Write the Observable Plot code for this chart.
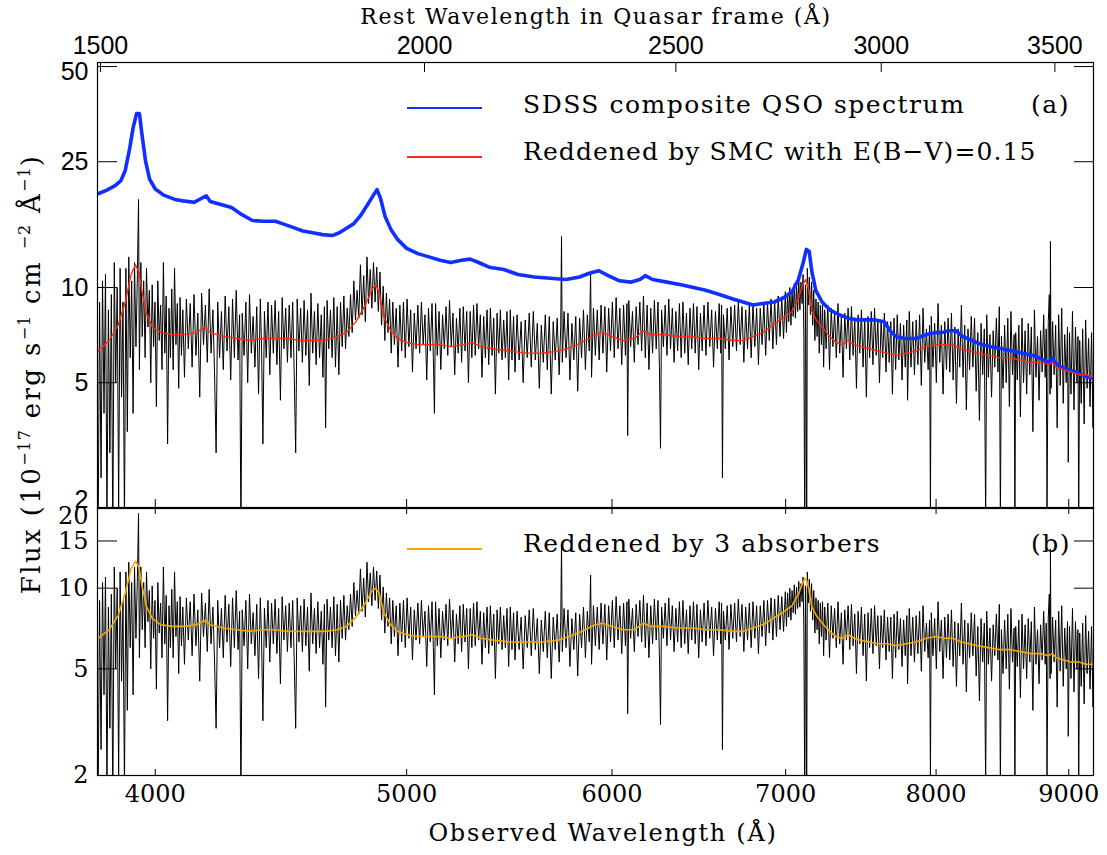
<!DOCTYPE html>
<html><head><meta charset="utf-8">
<script src="https://cdn.jsdelivr.net/npm/d3@7"></script>
<script src="https://cdn.jsdelivr.net/npm/@observablehq/plot@0.6"></script>
<style>
body{margin:0;background:#fff;}
#wrap{position:relative;width:1107px;height:855px;overflow:hidden;background:#fff;}
#top,#bot{position:absolute;left:0;}
#top{top:0}
#bot{top:507px}
.t{position:absolute;font-family:"DejaVu Serif",serif;font-size:25px;letter-spacing:1.5px;line-height:1;color:#000;white-space:nowrap;}
.c{transform:translate(-50%,-50%);}
.m{transform:translate(0,-50%);}
.ln{position:absolute;height:1.5px;width:75px;}
.yl{position:absolute;left:31px;top:374px;transform:translate(-50%,-50%) rotate(-90deg);font-family:"DejaVu Serif",serif;font-size:26px;letter-spacing:2.4px;white-space:nowrap;}
.yl sup{font-size:16px;vertical-align:0.65em;line-height:0;letter-spacing:1px;}
</style></head>
<body><div id="wrap">
<div id="top"></div><div id="bot"></div>
<div class="t c" style="left:596px;top:17px;font-size:22px;letter-spacing:1.6px">Rest Wavelength in Quasar frame (Å)</div>
<div class="t c" style="left:603px;top:833px;font-size:24px;letter-spacing:1.7px">Observed Wavelength (Å)</div>
<div class="yl">Flux (10<sup>−17</sup> erg s<sup>−1</sup> cm <sup>−2</sup> Å<sup>−1</sup>)</div>
<div class="ln" style="left:407px;top:107px;background:#1030ff"></div>
<div class="t m" style="left:523px;top:104px">SDSS composite QSO spectrum</div>
<div class="t m" style="left:1031px;top:104px">(a)</div>
<div class="ln" style="left:407px;top:156px;background:#ff2a10"></div>
<div class="t m" style="left:523px;top:151px;letter-spacing:1.1px">Reddened by SMC with E(B−V)=0.15</div>
<div class="ln" style="left:407px;top:548px;background:#f5a800"></div>
<div class="t m" style="left:523px;top:543px">Reddened by 3 absorbers</div>
<div class="t m" style="left:1031px;top:543px">(b)</div>
</div>
<script>
// Redshift of the quasar (1 + z)
const onePlusZ = 2.54;
const restTicks = [1500, 2000, 2500, 3000, 3500];
const obsTicks = [4000, 5000, 6000, 7000, 8000, 9000];
const yTicksTop = [2, 5, 10, 25, 50];
const yTicksBot = [2, 5, 10, 15, 20];
const xDomain = [3800, 9200];
const yDomainTop = [2, 51.5];
const yDomainBot = [2, 20];

// Observed spectrum [wavelength, flux]
const observedSpectrum = [
[3802,1.5],[3807,9.0],[3812,2.5],[3817,10.5],[3822,4.0],[3827,11.0],[3832,1.8],[3837,8.5],[3842,3.0],[3847,9.5],[3852,1.6],[3857,12.0],[3862,5.0],[3867,10.0],
[3872,2.0],[3877,11.5],[3882,4.5],[3887,9.0],[3892,1.8],[3897,11.5],[3902,3.5],[3907,12.5],[3912,6.0],[3917,10.5],[3922,4.0],[3927,12.0],[3932,6.5],[3937,11.0],
[3941,19.0],[3944,5.5],[3949,12.0],[3954,7.0],[3959,10.5],
[3964,6.0],[3969,11.5],[3974,7.5],[3979,9.8],[3984,5.0],[3989,10.2],[3994,6.5],[3999,9.0],[4004,4.2],[4009,10.5],[4014,6.8],[4019,8.8],[4024,5.5],[4029,12.0],
[4034,6.2],[4039,9.4],[4044,3.2],[4049,8.6],[4054,6.0],[4059,9.9],[4064,5.5],[4069,11.5],[4074,6.6],[4079,8.9],[4084,4.8],[4089,9.3],[4094,6.1],[4099,8.5],
[4105,5.2],[4112,9.2],[4119,6.4],[4126,8.9],[4133,5.6],[4140,9.5],[4147,6.1],[4154,8.3],[4161,4.5],[4168,9.6],[4175,6.6],[4182,8.8],[4189,5.8],[4196,9.9],
[4203,6.2],[4210,8.5],[4216,5.4],[4222,3.0],[4228,9.0],[4235,6.0],[4242,8.4],[4249,5.5],[4256,9.4],[4263,6.3],[4270,8.7],[4277,5.1],[4284,9.2],[4291,6.0],
[4298,9.8],[4305,5.9],[4311,8.2],[4316,1.6],[4321,8.3],[4328,6.1],[4335,9.0],[4342,5.0],[4349,9.5],[4356,6.2],[4363,8.1],[4370,5.6],[4377,8.7],[4384,4.6],
[4391,9.2],[4396,6.3],[4401,3.2],[4407,8.4],[4414,6.0],[4421,9.0],[4428,5.3],[4435,8.8],[4442,6.2],[4449,9.1],[4456,5.7],[4463,8.4],[4470,4.4],[4477,9.3],
[4484,6.4],[4491,8.6],[4498,5.8],
[4505,8.8],[4512,6.0],[4519,9.0],[4525,5.4],[4531,3.0],[4537,9.2],[4544,6.3],[4551,8.6],[4558,5.8],[4565,9.1],[4572,6.1],[4579,8.5],[4586,4.9],[4593,9.6],
[4600,6.2],[4607,8.4],[4614,5.7],[4621,8.9],[4628,6.0],[4635,8.2],[4642,5.2],[4648,8.7],[4653,3.6],[4659,9.1],[4666,6.4],[4673,8.5],[4680,6.0],[4687,9.3],
[4694,5.6],[4701,8.7],[4708,5.3],[4715,9.0],[4722,6.5],[4729,9.4],[4736,6.4],[4743,8.6],[4750,7.0],
[4757,9.5],[4764,7.2],[4771,10.5],[4778,7.9],[4785,9.8],[4792,8.0],[4799,11.8],[4806,8.2],[4813,10.9],[4820,7.8],[4827,12.5],[4834,8.9],[4841,11.4],[4848,8.6],
[4855,12.0],[4862,9.0],[4869,11.6],[4876,8.4],[4883,11.2],[4890,7.6],[4897,10.1],[4904,6.8],[4911,9.6],[4918,7.2],[4925,9.2],[4932,6.2],[4939,9.0],[4946,6.6],
[4954,8.6],[4962,5.6],[4970,8.8],[4978,6.3],[4986,9.0],[4994,6.0],[5002,9.2],[5010,6.5],[5018,8.5],[5026,5.4],[5034,8.3],[5042,6.4],[5050,8.8],[5058,6.2],
[5066,9.0],[5074,6.6],[5082,8.2],[5090,5.1],[5098,8.6],[5106,6.3],[5114,8.9],[5120,6.0],[5125,4.0],[5130,8.9],[5138,6.1],[5146,8.4],[5154,5.5],[5162,8.2],
[5170,6.4],[5178,8.7],[5186,6.1],[5194,9.1],[5202,6.5],[5210,8.3],[5218,5.3],[5226,8.0],[5234,6.2],[5242,8.6],[5250,5.8],[5258,8.7],[5266,6.3],[5274,8.4],
[5282,5.0],[5290,8.4],[5298,6.0],[5306,8.8],[5314,6.1],[5322,8.9],[5330,6.4],[5338,8.2],[5346,5.2],[5354,8.1],[5362,6.0],[5370,8.5],[5378,5.7],[5386,8.6],
[5394,6.1],[5402,8.0],[5410,4.6],[5418,8.3],[5426,6.2],[5434,8.5],[5442,5.9],[5450,7.9],[5458,6.0],[5466,8.4],[5474,5.1],[5482,8.5],[5490,5.9],[5498,8.1],
[5505,5.4],[5515,8.2],[5525,5.9],[5535,7.8],[5545,5.0],[5555,7.9],[5565,6.0],[5575,8.3],[5585,5.6],[5595,8.4],[5605,5.9],[5615,7.7],[5625,4.8],[5635,7.6],
[5645,5.8],[5655,8.2],[5665,5.5],[5675,8.1],[5685,4.6],[5695,7.8],[5705,5.9],[5715,8.0],[5725,5.3],[5733,7.5],[5737,14.5],[5741,5.8],[5750,8.4],[5760,6.0],
[5770,8.3],[5780,5.1],[5790,7.7],[5800,5.9],[5810,8.1],[5820,4.7],[5830,8.0],[5840,6.0],[5850,8.5],[5860,5.5],[5870,8.2],[5880,6.3],[5887,11.2],[5892,5.2],
[5902,8.6],[5912,6.1],[5922,8.5],[5932,5.9],[5942,8.8],[5952,6.2],[5962,8.7],[5972,5.4],[5982,8.6],[5992,6.3],
[6002,9.0],[6012,6.0],[6022,9.3],[6032,6.4],[6042,8.6],[6052,5.7],[6062,8.8],[6072,6.1],[6080,8.9],[6084,3.4],[6090,9.1],[6100,6.5],[6110,8.4],[6120,5.8],
[6130,8.7],[6140,6.6],[6150,9.0],[6160,6.3],[6170,9.4],[6180,6.0],[6190,8.8],[6200,5.5],[6210,8.6],[6220,6.2],[6230,9.1],[6240,6.4],[6250,9.0],[6258,5.6],
[6264,3.1],[6270,8.5],[6280,6.5],[6290,8.8],[6300,6.1],[6310,9.2],[6320,6.4],[6330,8.6],[6340,5.8],[6350,8.4],[6360,6.3],[6370,8.9],[6380,6.0],[6390,9.0],
[6400,6.2],[6410,8.3],[6420,5.7],[6430,8.6],[6440,6.4],[6450,8.9],[6460,6.2],[6470,8.7],[6480,5.5],[6490,8.3],
[6500,6.3],[6511,8.8],[6522,6.1],[6533,9.0],[6544,6.5],[6555,8.5],[6566,5.6],[6577,8.4],[6588,6.4],[6599,8.9],[6608,6.2],[6613,8.8],[6618,2.5],[6624,8.2],
[6635,6.4],[6646,8.6],[6657,5.9],[6668,8.7],[6679,6.5],[6690,8.8],[6701,6.3],[6712,9.1],[6723,6.6],[6734,8.7],[6745,5.8],[6756,8.5],[6767,6.4],[6778,8.8],
[6789,6.0],[6800,8.9],[6811,6.5],[6822,8.6],[6833,5.7],[6844,8.6],[6855,6.6],[6866,9.0],[6877,6.1],[6888,9.0],[6899,6.8],[6910,9.2],[6921,6.4],[6932,9.1],
[6943,6.6],[6954,9.4],[6965,7.0],[6976,9.3],[6987,6.9],[6998,9.7],
[7005,7.2],[7012,9.6],[7019,7.8],[7026,10.0],[7033,7.6],[7040,9.8],[7047,8.1],[7054,10.3],[7061,8.0],[7068,10.1],[7075,8.4],[7082,10.6],[7089,8.5],[7096,10.4],
[7103,8.9],[7109,11.0],[7114,7.0],[7120,1.5],[7124,10.2],[7128,6.0],[7132,1.5],[7136,11.5],[7142,8.8],[7149,10.8],[7156,8.2],[7163,10.4],[7170,7.6],[7177,9.8],
[7184,6.8],[7191,9.2],[7198,7.0],[7205,9.0],[7212,6.2],[7219,8.8],[7226,6.6],[7233,8.9],[7240,5.6],[7247,8.5],
[7256,6.4],[7267,8.8],[7278,5.5],[7289,8.6],[7300,6.5],[7311,8.4],[7322,6.0],[7333,8.9],[7344,6.2],[7355,8.1],[7366,5.2],[7377,8.3],[7388,6.4],[7399,8.6],
[7410,5.9],[7421,8.7],[7432,6.1],[7443,8.0],[7454,4.8],[7465,8.2],[7476,6.2],[7487,8.5],[7498,5.6],[7509,8.0],[7520,4.5],[7531,8.1],[7542,6.0],[7553,8.4],
[7564,5.7],[7575,8.6],[7586,6.1],[7597,7.9],[7608,5.0],[7619,7.9],[7630,6.0],[7641,8.3],[7652,5.4],[7663,7.8],[7674,5.8],[7685,7.8],[7696,4.6],[7707,8.0],
[7718,5.5],[7729,8.2],[7740,5.9],[7751,7.7],[7762,5.1],[7773,7.6],[7784,5.6],[7795,7.9],
[7800,4.4],[7812,8.4],[7824,5.6],[7836,7.8],[7848,5.3],[7860,7.9],[7872,5.7],[7884,8.2],[7896,4.9],[7908,8.6],[7920,5.8],[7932,7.4],[7944,5.5],[7954,7.6],
[7960,2.0],[7966,8.1],[7978,5.6],[7990,7.7],[8002,5.0],[8014,8.9],[8026,5.8],[8038,7.6],[8050,4.6],[8062,7.8],[8074,5.5],[8086,8.0],[8098,5.4],[8110,8.3],
[8122,5.1],[8134,7.5],[8146,4.3],[8158,7.4],[8170,5.6],[8182,8.8],[8194,5.2],[8206,7.6],[8218,4.1],[8230,7.4],[8242,5.5],[8254,8.1],[8266,5.6],[8278,8.0],
[8290,4.7],[8302,7.2],[8314,3.8],[8326,7.7],[8338,5.3],[8350,7.4],[8360,1.8],[8368,8.2],[8380,5.2],[8392,7.1],[8404,4.5],[8416,7.3],[8428,5.6],[8440,8.0],
[8452,5.4],[8462,8.7],[8470,1.8],[8478,7.0],[8490,4.8],
[8502,7.6],[8514,5.0],[8526,8.0],[8538,4.2],[8550,8.4],[8562,5.3],[8574,7.1],[8580,1.8],[8586,7.2],[8598,5.1],[8610,7.6],[8622,3.9],[8634,8.0],[8646,5.0],
[8658,7.3],[8670,4.6],[8682,7.7],[8694,5.3],[8706,7.5],[8718,3.5],[8730,8.5],[8742,5.2],[8754,7.0],[8766,4.4],[8778,7.3],[8790,5.4],[8802,8.2],[8814,5.2],
[8822,7.4],[8828,2.0],[8838,7.8],[8846,9.5],[8852,4.6],[8855,14.0],[8860,4.8],[8872,7.8],[8884,5.3],[8896,7.6],[8908,3.6],[8920,8.2],[8932,4.9],[8944,8.6],
[8956,4.3],[8968,7.1],[8980,5.0],[8990,7.5],[8996,2.8],[9006,7.2],[9018,4.6],[9030,8.4],[9042,4.1],[9054,7.5],[9066,5.0],[9074,7.0],[9080,1.8],[9088,6.8],
[9100,4.3],[9112,7.4],[9124,3.7],[9136,7.9],[9148,4.8],[9160,6.9],[9172,4.2],[9184,7.2],[9196,3.6],[9200,6.0]
];

// SDSS composite QSO spectrum, redshifted [wavelength, flux]
const compositeSpectrum = [
[3802,19.8],[3830,20.3],[3860,21.0],[3880,21.8],[3895,23.5],[3910,27.5],[3922,32],[3934,35.5],[3944,35.5],[3954,30],[3966,25],[3980,22],
[4000,20.5],[4030,19.6],[4070,19.0],[4100,18.8],[4140,18.6],[4170,19.2],[4185,19.5],[4200,18.7],[4240,18.3],[4280,17.9],[4320,17.0],[4360,16.3],
[4400,16.2],[4450,16.2],[4480,15.9],[4520,15.5],[4560,15.1],[4600,14.9],[4640,14.7],[4680,14.6],[4710,14.9],[4740,15.4],[4770,15.9],[4800,16.9],
[4830,18.3],[4855,19.6],[4870,20.4],[4885,19.2],[4905,16.8],[4930,15.3],[4960,14.2],[5000,13.3],[5050,12.8],[5100,12.5],[5150,12.2],[5200,12.0],
[5250,12.2],[5290,12.3],[5330,12.0],[5380,11.6],[5450,11.4],[5520,11.0],[5600,10.8],[5680,10.7],[5760,10.6],[5830,10.8],[5880,11.1],[5930,11.3],
[5980,10.9],[6040,10.5],[6100,10.4],[6150,10.6],[6180,10.9],[6220,10.6],[6300,10.4],[6380,10.2],[6450,10.0],[6520,9.8],[6600,9.5],[6680,9.2],
[6740,9.0],[6800,8.8],[6860,8.9],[6930,9.0],[6990,9.3],[7040,9.7],[7080,10.6],[7110,12.0],[7130,13.2],[7148,13.0],[7165,11.2],[7190,9.8],
[7230,9.0],[7280,8.5],[7340,8.2],[7400,8.0],[7460,7.9],[7520,7.9],[7580,7.9],[7640,7.8],[7680,7.3],[7720,7.0],[7780,6.9],[7860,6.9],
[7930,7.1],[7990,7.2],[8040,7.2],[8090,7.3],[8140,7.3],[8190,7.0],[8260,6.8],[8330,6.6],[8400,6.5],[8480,6.4],[8560,6.3],[8640,6.2],
[8720,6.1],[8800,5.9],[8840,5.8],[8870,6.0],[8890,5.8],[8940,5.6],[9000,5.5],[9060,5.4],[9120,5.25],[9200,5.15]
];

// Composite reddened by SMC dust, E(B-V)=0.15 [wavelength, flux]
const smcReddened = [
[3802,6.3],[3840,6.8],[3870,7.6],[3895,9.0],[3915,11.0],[3930,11.8],[3942,11.2],[3955,9.5],[3970,8.2],[3990,7.5],[4020,7.2],[4060,7.1],
[4100,7.1],[4150,7.2],[4180,7.5],[4200,7.2],[4250,7.0],[4300,6.9],[4350,6.8],[4400,6.9],[4450,6.9],[4500,6.9],[4550,6.8],[4600,6.8],
[4650,6.8],[4700,7.0],[4740,7.2],[4780,7.8],[4820,8.8],[4850,9.9],[4865,10.2],[4880,9.6],[4900,8.1],[4930,7.3],[4960,6.9],[5000,6.7],
[5050,6.6],[5100,6.6],[5150,6.6],[5200,6.5],[5260,6.6],[5300,6.7],[5340,6.5],[5400,6.4],[5480,6.3],[5560,6.2],[5640,6.2],[5720,6.3],
[5800,6.5],[5860,6.8],[5910,7.1],[5950,7.2],[6000,7.0],[6060,6.8],[6120,6.9],[6170,7.3],[6210,7.1],[6280,7.1],[6360,7.0],[6440,7.0],
[6520,6.9],[6600,6.9],[6680,6.8],[6740,6.8],[6800,7.0],[6860,7.2],[6920,7.6],[6980,8.0],[7040,8.4],[7080,9.2],[7110,10.3],[7128,10.6],
[7145,9.8],[7165,8.4],[7200,7.8],[7240,7.4],[7280,7.0],[7320,6.7],[7360,6.6],[7400,6.8],[7440,6.6],[7480,6.5],[7540,6.4],[7600,6.3],
[7660,6.2],[7720,6.1],[7790,6.2],[7860,6.3],[7930,6.5],[8000,6.6],[8060,6.6],[8120,6.6],[8180,6.4],[8240,6.3],[8300,6.2],[8380,6.1],
[8460,6.0],[8540,6.0],[8620,5.9],[8700,5.8],[8780,5.8],[8840,5.7],[8870,5.8],[8900,5.6],[8960,5.5],[9020,5.4],[9080,5.3],[9140,5.3],[9200,5.2]
];

// Composite reddened by 3 absorbers [wavelength, flux]
const threeAbsorbers = [
[3802,6.5],[3840,7.0],[3870,7.9],[3895,9.6],[3915,11.8],[3930,12.6],[3942,12.0],[3955,10.0],[3970,8.5],[3990,7.7],[4020,7.3],[4060,7.2],
[4100,7.2],[4150,7.3],[4180,7.6],[4200,7.3],[4250,7.1],[4300,7.0],[4350,6.9],[4400,7.0],[4450,7.0],[4500,6.9],[4550,6.9],[4600,6.9],
[4650,6.9],[4700,7.0],[4740,7.2],[4780,7.8],[4820,8.8],[4850,9.8],[4865,10.0],[4880,9.5],[4900,8.1],[4930,7.3],[4960,6.9],[5000,6.7],
[5050,6.6],[5100,6.6],[5150,6.6],[5200,6.5],[5260,6.6],[5300,6.7],[5340,6.5],[5400,6.4],[5480,6.3],[5560,6.3],[5640,6.3],[5720,6.4],
[5800,6.7],[5860,7.0],[5910,7.3],[5950,7.4],[6000,7.2],[6060,7.0],[6120,7.0],[6170,7.4],[6210,7.2],[6280,7.2],[6360,7.1],[6440,7.1],
[6520,7.0],[6600,7.0],[6680,6.9],[6740,6.9],[6800,7.1],[6860,7.3],[6920,7.7],[6980,8.1],[7040,8.6],[7080,9.5],[7110,10.6],[7128,10.9],
[7145,10.0],[7165,8.5],[7200,7.8],[7240,7.3],[7280,6.9],[7320,6.6],[7360,6.5],[7400,6.7],[7440,6.5],[7480,6.4],[7540,6.3],[7600,6.2],
[7660,6.2],[7720,6.1],[7790,6.2],[7860,6.3],[7930,6.5],[8000,6.6],[8060,6.5],[8120,6.5],[8180,6.3],[8240,6.2],[8300,6.1],[8380,6.0],
[8460,5.9],[8540,5.9],[8620,5.8],[8700,5.7],[8780,5.7],[8840,5.6],[8870,5.7],[8900,5.5],[8960,5.4],[9020,5.3],[9080,5.3],[9140,5.2],[9200,5.2]
];

const toRows = a => a.map(([w, f]) => ({w, f}));
const spec = toRows(observedSpectrum);
const comp = toRows(compositeSpectrum);
const smc = toRows(smcReddened);
const abs3 = toRows(threeAbsorbers);

const sansFont = "Liberation Sans";
const serifFont = "DejaVu Serif";
const isEnd = (t, v) => t === v;

const topChart = Plot.plot({
  width: 1107, height: 508,
  marginLeft: 97, marginRight: 14, marginTop: 62, marginBottom: 0,
  x: {type: "log", domain: xDomain, label: null},
  y: {type: "log", domain: yDomainTop, label: null},
  style: {background: "transparent", overflow: "visible"},
  marks: [
    Plot.line(spec, {x: "w", y: "f", stroke: "black", strokeWidth: 1, clip: true}),
    Plot.line(comp, {x: "w", y: "f", stroke: "#1030ff", strokeWidth: 3.6, clip: true}),
    Plot.line(smc, {x: "w", y: "f", stroke: "#ff2a10", strokeWidth: 1.4, clip: true}),
    Plot.frame({stroke: "black", strokeWidth: 1.2}),
    Plot.axisY({anchor: "left", ticks: yTicksTop.slice(1, -1), tickFormat: d => String(d), tickSize: 0, tickPadding: 9, fontSize: 25, fontFamily: sansFont, label: null}),
    Plot.axisY({anchor: "left", ticks: yTicksTop.slice(-1), tickFormat: d => String(d), tickSize: 0, tickPadding: 9, dy: 5, fontSize: 25, fontFamily: sansFont, label: null}),
    Plot.axisY({anchor: "left", ticks: yTicksTop.slice(0, 1), tickFormat: d => String(d), tickSize: 0, tickPadding: 9, dy: -9, fontSize: 25, fontFamily: sansFont, label: null}),
    Plot.axisY({anchor: "left", ticks: yTicksTop, tickFormat: () => "", tickSize: -20, label: null}),
    Plot.axisY({anchor: "right", ticks: yTicksTop, tickFormat: () => "", tickSize: -20, label: null}),
    Plot.axisX({anchor: "top", ticks: restTicks.map(r => r * onePlusZ), tickFormat: d => String(Math.round(d / onePlusZ)), tickSize: 0, tickPadding: 9, fontSize: 25, fontFamily: sansFont, label: null}),
    Plot.axisX({anchor: "top", ticks: restTicks.map(r => r * onePlusZ), tickFormat: () => "", tickSize: -9, label: null}),
    Plot.axisX({anchor: "bottom", ticks: obsTicks, tickFormat: () => "", tickSize: -9, label: null})
  ]
});
document.getElementById("top").appendChild(topChart);

const botChart = Plot.plot({
  width: 1107, height: 348,
  marginLeft: 97, marginRight: 14, marginTop: 0, marginBottom: 80,
  x: {type: "log", domain: xDomain, label: null},
  y: {type: "log", domain: yDomainBot, label: null},
  style: {background: "transparent", overflow: "visible"},
  marks: [
    Plot.line(spec, {x: "w", y: "f", stroke: "black", strokeWidth: 1, clip: true}),
    Plot.line(abs3, {x: "w", y: "f", stroke: "#f5a800", strokeWidth: 1.6, clip: true}),
    Plot.frame({stroke: "black", strokeWidth: 1.2}),
    Plot.axisY({anchor: "left", ticks: yTicksBot.slice(0, -1), tickFormat: d => String(d), tickSize: 0, tickPadding: 9, fontSize: 24, fontFamily: serifFont, label: null}),
    Plot.axisY({anchor: "left", ticks: yTicksBot.slice(-1), tickFormat: d => String(d), tickSize: 0, tickPadding: 9, dy: 9, fontSize: 24, fontFamily: serifFont, label: null}),
    Plot.axisY({anchor: "left", ticks: yTicksBot, tickFormat: () => "", tickSize: -20, label: null}),
    Plot.axisY({anchor: "right", ticks: yTicksBot, tickFormat: () => "", tickSize: -20, label: null}),
    Plot.axisX({anchor: "bottom", ticks: obsTicks, tickFormat: d => String(d), tickSize: 0, tickPadding: 9, fontSize: 24, fontFamily: serifFont, label: null}),
    Plot.axisX({anchor: "bottom", ticks: obsTicks, tickFormat: () => "", tickSize: -6, label: null}),
    Plot.axisX({anchor: "top", ticks: obsTicks, tickFormat: () => "", tickSize: -6, label: null})
  ]
});
document.getElementById("bot").appendChild(botChart);
</script>
</body></html>
